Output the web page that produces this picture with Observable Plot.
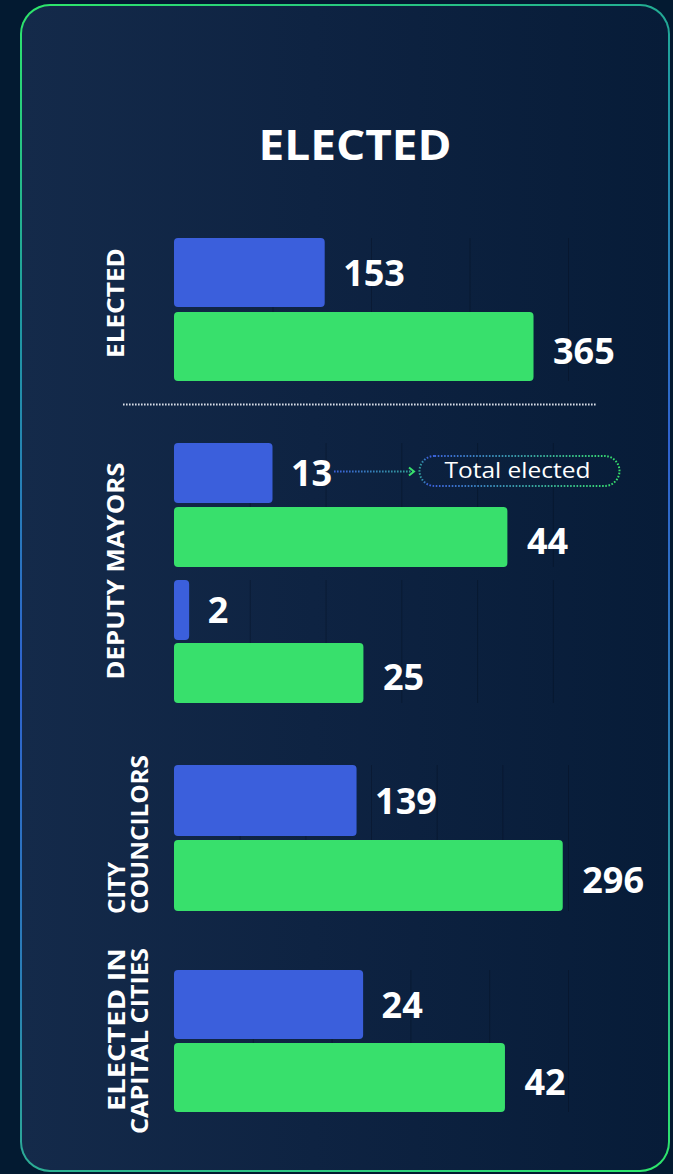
<!DOCTYPE html>
<html>
<head>
<meta charset="utf-8">
<script src="https://cdn.jsdelivr.net/npm/d3@7"></script>
<script src="https://cdn.jsdelivr.net/npm/@observablehq/plot@0.6"></script>
<style>
  html, body { margin: 0; padding: 0; background: #031a31; }
  #page { position: relative; width: 673px; height: 1174px; overflow: hidden; font-family: "Open Sans", sans-serif; }
  #card {
    position: absolute; left: 20px; top: 4px; width: 646px; height: 1164px;
    border: 2.5px solid transparent; border-radius: 30px;
    background:
      linear-gradient(90deg, #142a4a 0%, #0e2342 45%, #071c38 100%) padding-box,
      linear-gradient(160deg, #2ee86a 0%, #1f9aa0 22%, #2f62cf 48%, #2a7fb5 70%, #2ee86a 100%) border-box;
  }
</style>
</head>
<body>
<div id="page"><div id="card"></div></div>
<script>
// ---------- data ----------
const titleText = "ELECTED";
const groups = ["ELECTED", "DEPUTY MAYORS", "CITY COUNCILORS", "ELECTED IN CAPITAL CITIES"];
const groupLabelLines = [["ELECTED"], ["DEPUTY MAYORS"], ["CITY", "COUNCILORS"], ["ELECTED IN", "CAPITAL CITIES"]];
const pairGroup = [0, 1, 1, 2, 3];
const series = ["Women elected", "Total elected"];
const womenValues = [153, 13, 2, 139, 24];
const totalValues = [365, 44, 25, 296, 42];
const groupXMax = [400, 52, 300, 50];
const groupGridStep = [100, 10, 50, 10];
const annotationText = "Total elected";

// ---------- layout / style ----------
const W = 673, H = 1174;
const FONT = "'Open Sans', sans-serif";
const BLUE = "#3b5fdc", GREEN = "#38e06c";
const pairTop = [238, 443, 580, 765, 970];
const pairBar = [69, 60, 60, 71, 69];
const pairGap = [5, 4, 3, 4, 4];
const page = document.getElementById("page");

pairGroup.forEach((g, i) => {
  const rows = series.map((s, k) => ({series: s, value: k === 0 ? womenValues[i] : totalValues[i]}));
  const h = pairBar[i] * 2 + pairGap[i];
  const ticks = d3.range(groupGridStep[g], groupXMax[g] + 1e-9, groupGridStep[g]);
  const chart = Plot.plot({
    width: W, height: h,
    marginLeft: 174, marginRight: 105, marginTop: 0, marginBottom: 0,
    style: {background: "transparent", overflow: "visible", fontFamily: FONT},
    x: {domain: [0, groupXMax[g]], axis: null},
    y: {domain: series, axis: null, paddingInner: pairGap[i] / (pairBar[i] + pairGap[i]), paddingOuter: 0, round: false},
    color: {domain: series, range: [BLUE, GREEN]},
    marks: [
      Plot.ruleX(ticks, {stroke: "#020b18", strokeOpacity: 0.3, strokeWidth: 1}),
      Plot.barX(rows, {x: "value", y: "series", fill: "series", rx: 4}),
      Plot.text(rows.filter(d => d.series === series[0]), {
        x: "value", y: "series", text: d => String(d.value), textAnchor: "start",
        dx: 18, dy: 1, fill: "white", fontSize: 36, fontWeight: 700
      }),
      Plot.text(rows.filter(d => d.series === series[1]), {
        x: "value", y: "series", text: d => String(d.value), textAnchor: "start",
        dx: 19, dy: 5, fill: "white", fontSize: 36, fontWeight: 700
      })
    ]
  });
  chart.style.position = "absolute";
  chart.style.left = "0px";
  chart.style.top = pairTop[i] + "px";
  page.appendChild(chart);
});

// ---------- overlay: title, group labels, separator, annotation ----------
const svg = d3.select(page).append("svg")
  .attr("width", W).attr("height", H)
  .style("position", "absolute").style("left", "0px").style("top", "0px")
  .style("pointer-events", "none")
  .style("font-family", FONT);

const defs = svg.append("defs");
const grad = defs.append("linearGradient").attr("id", "annGrad")
  .attr("gradientUnits", "userSpaceOnUse").attr("x1", 333).attr("x2", 620).attr("y1", 0).attr("y2", 0);
grad.append("stop").attr("offset", "0%").attr("stop-color", "#3b5fdc");
grad.append("stop").attr("offset", "30%").attr("stop-color", "#2fa58f");
grad.append("stop").attr("offset", "33%").attr("stop-color", "#3b5fdc");
grad.append("stop").attr("offset", "100%").attr("stop-color", "#36e06a");

svg.append("text")
  .attr("x", 355).attr("y", 160)
  .attr("text-anchor", "middle")
  .attr("fill", "white").attr("font-weight", 700).attr("font-size", 42)
  .attr("textLength", 193).attr("lengthAdjust", "spacingAndGlyphs")
  .text(titleText);

const labelY = [303, 571, 914, 948];
const labelAnchor = ["middle", "middle", "start", "end"];
const labelLen = [[110], [217], [52, 159], [163, 186]];
const lineBase = {1: [124], 2: [125, 148]};
groupLabelLines.forEach((lines, g) => {
  lines.forEach((line, j) => {
    svg.append("text")
      .attr("transform", `translate(${lineBase[lines.length][j]},${labelY[g]}) rotate(-90)`)
      .attr("text-anchor", labelAnchor[g])
      .attr("fill", "white").attr("font-weight", 700).attr("font-size", 22.5)
      .attr("textLength", labelLen[g][j]).attr("lengthAdjust", "spacingAndGlyphs")
      .text(line);
  });
});

// dotted separator
svg.append("line")
  .attr("x1", 123).attr("x2", 597).attr("y1", 404.5).attr("y2", 404.5)
  .attr("stroke", "#d7dce6").attr("stroke-width", 2).attr("stroke-dasharray", "1.6 1.4");

// annotation arrow + box
svg.append("line")
  .attr("x1", 334).attr("x2", 413).attr("y1", 471.5).attr("y2", 471.5)
  .attr("stroke", "url(#annGrad)").attr("stroke-width", 2).attr("stroke-dasharray", "1.6 1.4");
svg.append("path")
  .attr("d", "M409,467.5 L414,471.5 L409,475.5")
  .attr("fill", "none").attr("stroke", "#38e06c").attr("stroke-width", 2);
svg.append("rect")
  .attr("x", 419.5).attr("y", 456).attr("width", 200).attr("height", 30).attr("rx", 15)
  .attr("fill", "none").attr("stroke", "url(#annGrad)").attr("stroke-width", 2).attr("stroke-dasharray", "1.6 1.6");
svg.append("text")
  .attr("x", 517.5).attr("y", 478)
  .attr("text-anchor", "middle")
  .attr("fill", "white").attr("font-weight", 400).attr("font-size", 22)
  .attr("textLength", 146).attr("lengthAdjust", "spacingAndGlyphs")
  .text(annotationText);
</script>
</body>
</html>
